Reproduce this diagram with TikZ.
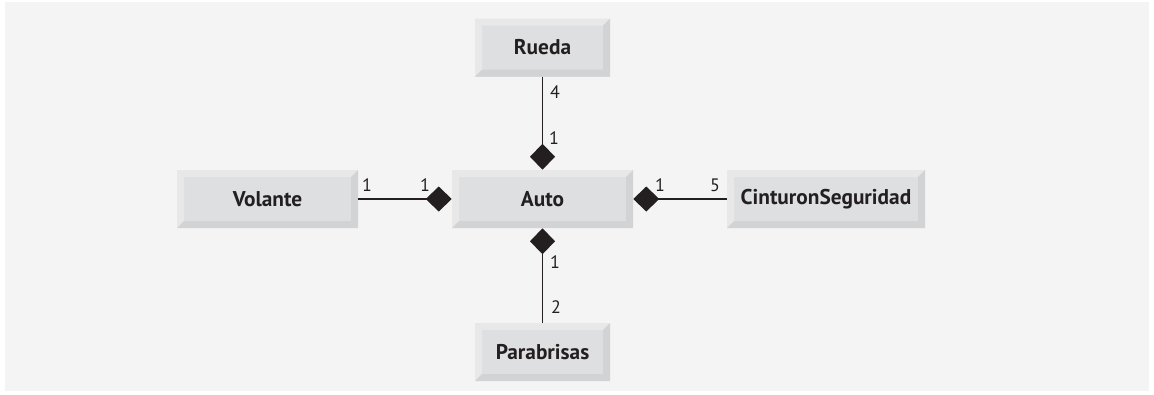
\documentclass[tikz,border=0pt]{standalone}
\usepackage{fontspec}
\setmainfont{PT Sans}
\usetikzlibrary{arrows.meta}
\definecolor{fondo}{RGB}{244,244,244}
\definecolor{cara}{RGB}{222,223,224}
\definecolor{bisclaro}{RGB}{232,232,233}
\definecolor{bisoscuro}{RGB}{210,211,212}
\definecolor{texto}{RGB}{35,31,32}

\tikzset{
  clase/.style={fill=cara, inner sep=0pt, minimum height=43.5pt, text=texto,
    font=\bfseries\fontsize{16}{18}\selectfont,
    path picture={
      \coordinate (ppnw) at (path picture bounding box.north west);
      \coordinate (ppne) at (path picture bounding box.north east);
      \coordinate (ppsw) at (path picture bounding box.south west);
      \coordinate (ppse) at (path picture bounding box.south east);
      \fill[bisclaro] (ppnw) -- (ppne) -- ([shift={(-5.25pt,-5.25pt)}]ppne) -- ([shift={(5.25pt,-5.25pt)}]ppnw) -- cycle;
      \fill[bisclaro] (ppnw) -- ([shift={(5.25pt,-5.25pt)}]ppnw) -- ([shift={(5.25pt,5.25pt)}]ppsw) -- (ppsw) -- cycle;
      \fill[bisoscuro] (ppsw) -- (ppse) -- ([shift={(-5.25pt,5.25pt)}]ppse) -- ([shift={(5.25pt,5.25pt)}]ppsw) -- cycle;
      \fill[bisoscuro] (ppne) -- (ppse) -- ([shift={(-5.25pt,5.25pt)}]ppse) -- ([shift={(-5.25pt,-5.25pt)}]ppne) -- cycle;
    }},
  compos/.style={draw=texto, line width=1pt, -{Diamond[length=19.5pt,width=18.75pt]}},
  mult/.style={inner sep=0pt, text=texto, font=\fontsize{13.5}{15}\selectfont},
}

\begin{document}
\begin{tikzpicture}[x=0.75pt, y=-0.75pt]
  \useasboundingbox[fill=white] (0,0) rectangle (1154,394);
  \fill[fondo] (5,2) rectangle (1149,391);

  % clases
  \node[clase, minimum width=135.75pt] (auto) at (542.5,199) {Auto};
  \node[clase, minimum width=135.75pt] (volante) at (267.5,199) {Volante};
  \node[clase, minimum width=148.5pt] (cinturon) at (826,199) {CinturonSeguridad};
  \node[clase, minimum width=101.25pt] (rueda) at (542.5,47.5) {Rueda};
  \node[clase, minimum width=101.25pt] (parabrisas) at (542.5,352) {Parabrisas};

  % composiciones
  \draw[compos] (volante) -- (auto);
  \draw[compos] (cinturon) -- (auto);
  \draw[compos] (rueda) -- (auto);
  \draw[compos] (parabrisas) -- (auto);

  % multiplicidades
  \node[mult] (m-volante) at (367,185) {1};
  \node[mult] (m-auto-w) at (425,185) {1};
  \node[mult] (m-auto-e) at (660,185) {1};
  \node[mult] (m-cinturon) at (715,185) {5};
  \node[mult] (m-rueda) at (555,92) {4};
  \node[mult] (m-auto-n) at (554,138) {1};
  \node[mult] (m-auto-s) at (555,262) {1};
  \node[mult] (m-parabrisas) at (556,307) {2};
\end{tikzpicture}
\end{document}
